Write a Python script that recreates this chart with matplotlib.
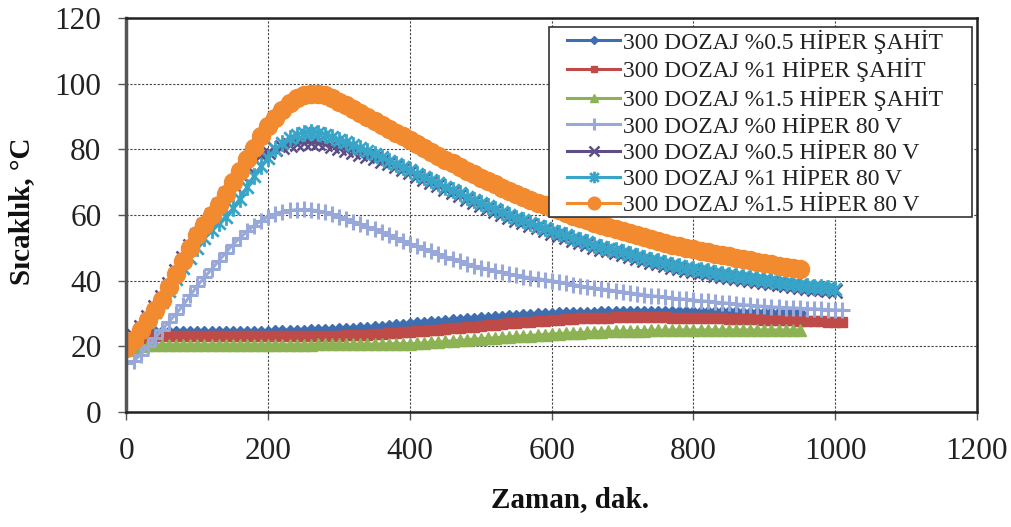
import matplotlib
matplotlib.use("Agg")
import matplotlib.pyplot as plt
from matplotlib.path import Path
from matplotlib.patches import Rectangle

# ---------------- data ----------------
t_950 = list(range(0, 951, 10))
t_1000 = list(range(0, 1001, 10))
t_1010 = list(range(0, 1011, 10))

labels = [
    "300 DOZAJ %0.5 HİPER ŞAHİT",
    "300 DOZAJ %1 HİPER ŞAHİT",
    "300 DOZAJ %1.5 HİPER ŞAHİT",
    "300 DOZAJ %0 HİPER 80 V",
    "300 DOZAJ %0.5 HİPER 80 V",
    "300 DOZAJ %1 HİPER 80 V",
    "300 DOZAJ %1.5 HİPER 80 V",
]

# 0.5 ŞAHİT (0..950)
s_05_sahit = [21, 22.5, 23.5, 24, 24.3, 24.5, 24.5, 24.5, 24.5, 24.5,
              24.5, 24.5, 24.5, 24.5, 24.5, 24.5, 24.5, 24.5, 24.5, 24.5,
              24.5, 24.6, 24.6, 24.7, 24.8, 24.8, 24.9, 25, 25, 25.1,
              25.2, 25.3, 25.4, 25.5, 25.6, 25.8, 26, 26.2, 26.5, 26.6,
              26.8, 27, 27.2, 27.4, 27.5, 27.7, 27.9, 28, 28.2, 28.3,
              28.5, 28.7, 28.8, 29, 29.2, 29.3, 29.5, 29.6, 29.8, 29.9,
              30, 30.1, 30.1, 30.2, 30.2, 30.3, 30.3, 30.4, 30.4, 30.5,
              30.5, 30.5, 30.5, 30.5, 30.5, 30.5, 30.5, 30.5, 30.5, 30.5,
              30.5, 30.5, 30.5, 30.4, 30.4, 30.4, 30.4, 30.3, 30.3, 30.3,
              30.3, 30.3, 30.2, 30.2, 30.2, 30.2]

# 1 ŞAHİT (0..1010)
s_1_sahit = [20, 21.5, 22.5, 23, 23.2, 23.3, 23.3, 23.3, 23.3, 23.3,
             23.3, 23.3, 23.3, 23.3, 23.3, 23.3, 23.3, 23.3, 23.3, 23.3,
             23.3, 23.3, 23.3, 23.3, 23.3, 23.3, 23.3, 23.3, 23.3, 23.3,
             23.3, 23.4, 23.4, 23.5, 23.6, 23.7, 23.8, 24, 24.1, 24.3,
             24.5, 24.6, 24.8, 25, 25.1, 25.3, 25.5, 25.7, 25.9, 26,
             26.2, 26.4, 26.6, 26.8, 27, 27.2, 27.4, 27.5, 27.7, 27.8,
             28, 28.1, 28.2, 28.4, 28.5, 28.6, 28.6, 28.7, 28.7, 28.8,
             28.8, 28.8, 28.8, 28.8, 28.8, 28.8, 28.8, 28.7, 28.7, 28.7,
             28.6, 28.6, 28.5, 28.5, 28.5, 28.4, 28.4, 28.3, 28.3, 28.2,
             28.1, 28.1, 28, 28, 27.9, 27.8, 27.7, 27.6, 27.6, 27.5,
             27.4, 27.3]

# 1.5 ŞAHİT (0..950)
s_15_sahit = [19, 19.5, 20, 20.3, 20.5, 20.5, 20.5, 20.5, 20.5, 20.5,
              20.5, 20.5, 20.5, 20.5, 20.5, 20.5, 20.5, 20.5, 20.5, 20.5,
              20.5, 20.5, 20.5, 20.5, 20.5, 20.5, 20.5, 20.6, 20.6, 20.6,
              20.6, 20.6, 20.6, 20.7, 20.7, 20.7, 20.7, 20.8, 20.8, 20.8,
              20.8, 20.9, 21, 21.2, 21.3, 21.5, 21.7, 21.8, 22, 22.2,
              22.3, 22.5, 22.6, 22.8, 22.9, 23, 23.2, 23.3, 23.5, 23.6,
              23.8, 23.9, 24, 24.1, 24.2, 24.3, 24.4, 24.5, 24.6, 24.6,
              24.7, 24.7, 24.8, 24.8, 24.9, 24.9, 24.9, 25, 25, 25,
              25, 25, 25, 25, 25, 25, 25, 25, 25, 25,
              25, 25, 25, 25, 25, 25]

# 0 HİPER 80 V (0..1010)
s_0_80v = [15, 15.5, 17.5, 20, 22.5, 25, 27.5, 30, 32.5, 35.5,
           38.5, 41, 43.5, 46, 48.5, 51, 53, 55, 56.8, 58.3,
           59.5, 60.4, 61, 61.4, 61.6, 61.7, 61.6, 61.3, 60.8, 60.2,
           59.5, 58.8, 58, 57.2, 56.4, 55.6, 54.8, 54, 53.1, 52.2,
           51.3, 50.5, 49.7, 48.9, 48.1, 47.3, 46.6, 45.9, 45.2, 44.5,
           44, 43.5, 43, 42.5, 42, 41.6, 41.2, 40.9, 40.6, 40.3,
           40, 39.6, 39.2, 38.8, 38.4, 38.1, 37.8, 37.5, 37.2, 36.9,
           36.6, 36.3, 36, 35.7, 35.4, 35.2, 35, 34.7, 34.5, 34.3,
           34.1, 33.9, 33.7, 33.5, 33.3, 33.1, 32.9, 32.7, 32.5, 32.3,
           32.2, 32, 31.9, 31.8, 31.7, 31.6, 31.5, 31.4, 31.3, 31.2,
           31.1, 31]

# 0.5 HİPER 80 V (0..1000)
s_05_80v = [20.5, 23, 26, 29, 32, 35, 39, 43, 47, 50.5,
            54, 57, 60, 63, 66.5, 69.5, 72.5, 75, 77, 78.3,
            79.3, 80.1, 80.8, 81.3, 81.7, 82, 82, 81.8, 81.6, 81,
            80.4, 79.9, 79.3, 78.7, 78, 77.3, 76.5, 75.7, 74.8, 73.9,
            73, 72, 71, 70, 69, 68, 67, 66, 65, 64,
            63.1, 62.2, 61.3, 60.4, 59.5, 58.6, 57.8, 57, 56.2, 55.4,
            54.6, 53.9, 53.2, 52.5, 51.8, 51.1, 50.4, 49.8, 49.2, 48.6,
            48, 47.4, 46.8, 46.3, 45.8, 45.3, 44.8, 44.3, 43.8, 43.4,
            43, 42.6, 42.2, 41.8, 41.4, 41, 40.7, 40.4, 40.1, 39.8,
            39.5, 39.2, 38.9, 38.6, 38.3, 38, 37.8, 37.6, 37.4, 37.2,
            37]

# 1 HİPER 80 V (0..1000)
s_1_80v = [20, 22, 24.5, 27.5, 30.5, 33.5, 37, 40.5, 44, 47,
           50, 53, 55.5, 57.5, 59.5, 62, 65, 68.5, 72, 75,
           77.5, 80, 82, 83.5, 84.5, 85, 85.2, 85, 84.5, 83.8,
           83, 82.2, 81.3, 80.4, 79.5, 78.6, 77.6, 76.6, 75.6, 74.6,
           73.6, 72.6, 71.6, 70.6, 69.6, 68.6, 67.6, 66.6, 65.6, 64.6,
           63.7, 62.8, 61.9, 61, 60.1, 59.2, 58.4, 57.6, 56.8, 56,
           55.2, 54.5, 53.8, 53.1, 52.4, 51.7, 51, 50.4, 49.8, 49.2,
           48.6, 48, 47.4, 46.9, 46.4, 45.9, 45.4, 44.9, 44.4, 44,
           43.6, 43.2, 42.8, 42.4, 42, 41.6, 41.3, 41, 40.7, 40.4,
           40.1, 39.8, 39.5, 39.2, 38.9, 38.6, 38.4, 38.2, 38, 37.8,
           37.6]

# 1.5 HİPER 80 V (0..950)
s_15_80v = [19.5, 22, 25, 28, 31, 34, 38, 42, 46, 50,
            54, 57, 60, 63, 66.5, 70, 73.5, 77, 80.5, 84,
            87, 89.5, 92, 94, 95.5, 96.5, 97, 97, 96.5, 95.5,
            94.5, 93.5, 92.3, 91.1, 89.9, 88.7, 87.5, 86.3, 85.1, 84,
            82.8, 81.6, 80.4, 79.2, 78, 76.8, 75.7, 74.6, 73.5, 72.4,
            71.3, 70.3, 69.3, 68.3, 67.4, 66.5, 65.6, 64.7, 63.8, 63,
            62.2, 61.4, 60.6, 59.8, 59.1, 58.4, 57.7, 57, 56.3, 55.6,
            55, 54.4, 53.8, 53.2, 52.6, 52, 51.5, 51, 50.5, 50,
            49.5, 49, 48.6, 48.2, 47.8, 47.4, 47, 46.6, 46.2, 45.8,
            45.4, 45, 44.6, 44.3, 44, 43.7]

x_ticks = [0, 200, 400, 600, 800, 1000, 1200]
y_ticks = [0, 20, 40, 60, 80, 100, 120]

# ---------------- styling ----------------
plt.rcParams['font.family'] = ['Liberation Serif', 'DejaVu Serif']

colors = ['#3F6EB0', '#BE4B48', '#8DB254', '#98A9D9', '#5E4E86', '#38A4C8', '#F28A30']

asterisk = Path([(0, -1), (0, 1), (-0.75, -0.75), (0.75, 0.75), (-0.75, 0.75), (0.75, -0.75)],
                [Path.MOVETO, Path.LINETO, Path.MOVETO, Path.LINETO, Path.MOVETO, Path.LINETO])

series = [
    (t_950, s_05_sahit, 'D', 6, 1.0),
    (t_1010, s_1_sahit, 's', 7, 1.0),
    (t_950, s_15_sahit, '^', 8, 1.0),
    (t_1010, s_0_80v, '+', 12, 2.2),
    (t_1000, s_05_80v, 'x', 10, 1.8),
    (t_1000, s_1_80v, asterisk, 12, 2.0),
    (t_950, s_15_80v, 'o', 13, 1.0),
]

fig = plt.figure(figsize=(10.12, 5.27), dpi=100)
ax = fig.add_axes([0.125, 0.2182, 0.8404, 0.7476])

for (tx, ys, mk, ms, mew), lab, c in zip(series, labels, colors):
    ax.plot(tx, ys, color=c, lw=2.2, marker=mk, markersize=ms, markeredgewidth=mew,
            markerfacecolor=c, markeredgecolor=c, label=lab)

ax.set_xlim(0, 1200)
ax.set_ylim(0, 120)
ax.set_xticks(x_ticks)
ax.set_yticks(y_ticks)
ax.tick_params(direction='out', length=6, width=1, color='#555555',
               labelsize=22.5, labelcolor='#222222', pad=12)
ax.grid(True, color='#444444', linestyle=(0, (2, 1.5)), linewidth=0.8)
ax.set_axisbelow(True)
for side in ['top', 'right', 'bottom']:
    ax.spines[side].set_linewidth(1.8)
    ax.spines[side].set_color('#222222')
ax.spines['left'].set_linewidth(2.5)
ax.spines['left'].set_color('#555555')

ax.set_ylabel('Sıcaklık, °C', fontsize=21, fontweight='bold', color='#111111')
ax.set_xlabel('Zaman, dak.', fontsize=21, fontweight='bold', color='#111111')
ax.yaxis.label.set_va('center')
ax.xaxis.label.set_va('center')
ax.yaxis.set_label_coords(-0.123, 0.51)
ax.xaxis.set_label_coords(0.521, -0.223)

# legend frame (drawn separately so horizontal and vertical padding can differ)
frame = Rectangle((0.4968, 0.495), 0.4973, 0.482, transform=ax.transAxes,
                  facecolor='white', edgecolor='#333333', linewidth=1.2, zorder=4)
ax.add_patch(frame)

leg = ax.legend(loc='upper left', bbox_to_anchor=(0.518, 0.971), fontsize=17,
                numpoints=1, handlelength=2.25, handletextpad=0.13, labelspacing=0.2,
                borderpad=0.0, borderaxespad=0.0, frameon=False, markerscale=0.7)
leg.set_zorder(5)
for txt in leg.get_texts():
    txt.set_color('#222222')

fig.savefig('out.png', dpi=100)
